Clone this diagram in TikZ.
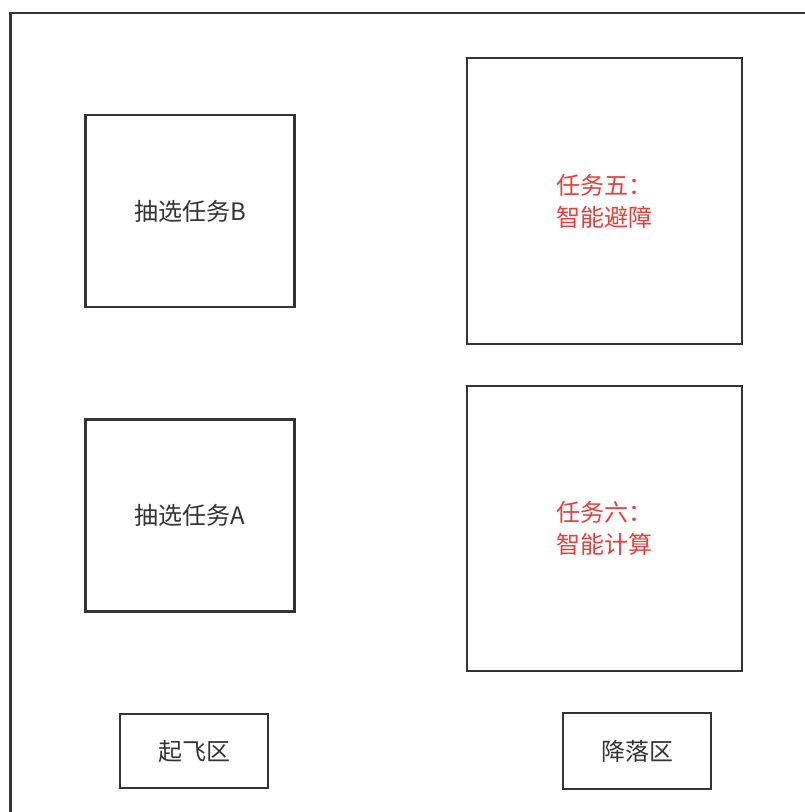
\documentclass[tikz,border=0pt]{standalone}
\usepackage{fontspec}
\setmainfont{Noto Sans CJK SC}
\definecolor{frame}{HTML}{333333}
\definecolor{txt}{HTML}{333333}
\definecolor{redtxt}{HTML}{E5403F}
\begin{document}
\begin{tikzpicture}[x=1pt,y=-1pt,
  box/.style={draw=frame,line width=2.6pt,fill=white,inner sep=0pt,font=\fontsize{24}{32}\selectfont,text=txt,align=center},
  redbox/.style={box,text=redtxt}]
\useasboundingbox (0,0) rectangle (805,812);
\clip (0,0) rectangle (805,812);
\fill[white] (0,0) rectangle (805,812);
\draw[frame,line width=2.6pt] (10.5,13) rectangle (840,850);
\node[box,minimum width=209,minimum height=192] (b) at (190,211) {抽选任务B};
\node[box,minimum width=209,minimum height=192] (a) at (190,515.5) {抽选任务A};
\node[redbox,minimum width=275,minimum height=286] (t5) at (604.5,201) {任务五：\\智能避障};
\node[redbox,minimum width=275,minimum height=285] (t6) at (604.5,528.5) {任务六：\\智能计算};
\node[box,minimum width=148,minimum height=74] (qf) at (194,751) {起飞区};
\node[box,minimum width=148,minimum height=76] (jl) at (637,751) {降落区};
\end{tikzpicture}
\end{document}
